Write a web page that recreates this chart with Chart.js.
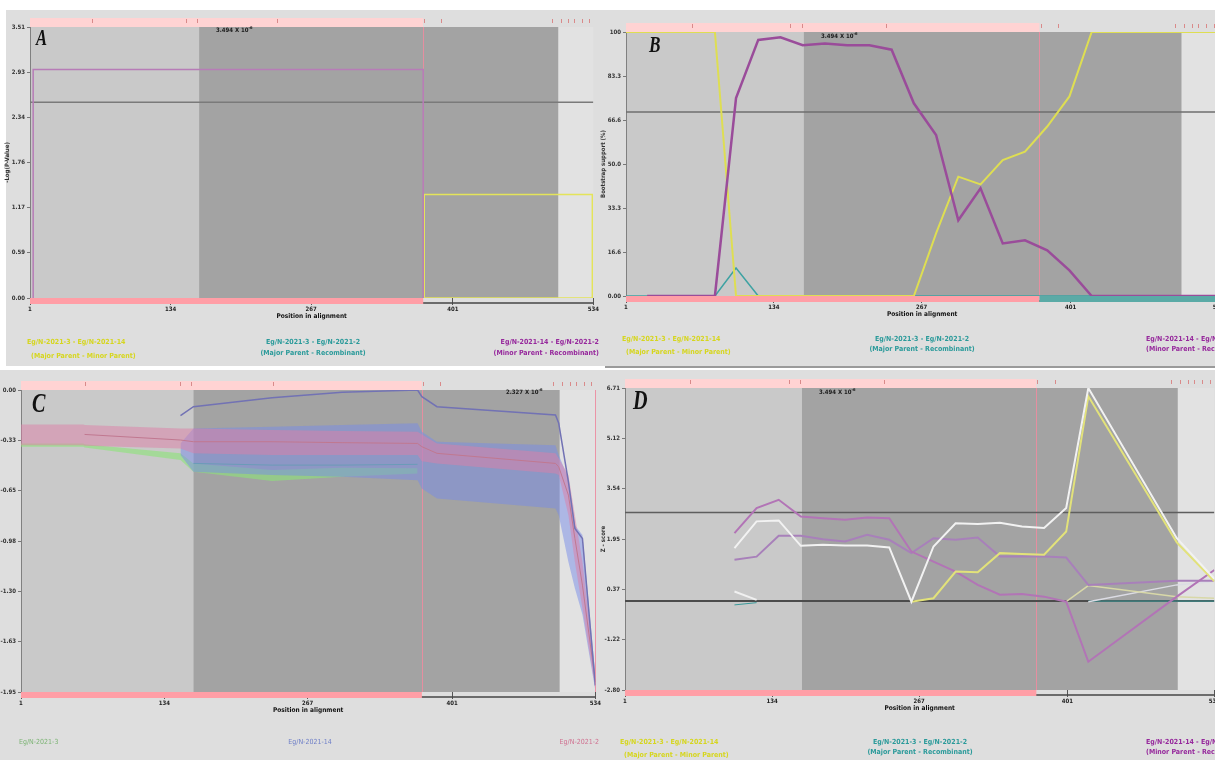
<!DOCTYPE html>
<html>
<head>
<meta charset="utf-8">
<script src="https://cdn.jsdelivr.net/npm/chart.js@4.4.1/dist/chart.umd.min.js"></script>
<style>
  body { margin: 0; background: #fff; }
  #page { position: relative; width: 1215px; height: 760px; overflow: hidden; background: #fff;
          font-family: "Liberation Sans Narrow", "DejaVu Sans Condensed", sans-serif; }
  .bg { position: absolute; background: #dedede; }
  canvas { position: absolute; }
  .t { position: absolute; font-weight: bold; font-size: 7px; line-height: 8px; white-space: nowrap; }
  .c { transform: translateX(-50%); text-align: center; }
  .r { text-align: right; }
  .letter { position: absolute; font-family: "Liberation Serif", "DejaVu Serif", serif; font-style: italic;
            font-weight: bold; color: #111; transform: scaleX(0.72); transform-origin: left top; }
  .pv { position: absolute; font-size: 6px; font-weight: bold; color: #1a1a1a; white-space: nowrap; }
  .pv sup { font-size: 4px; }
</style>
</head>
<body>
<div id="page">
  <div class="bg" style="left:6px;top:10px;width:599px;height:356px;"></div>
  <div class="bg" style="left:605px;top:10px;width:610px;height:356px;border-bottom:2px solid #9a9a9a;"></div>
  <div class="bg" style="left:0px;top:370px;width:605px;height:390px;"></div>
  <div class="bg" style="left:605px;top:370px;width:610px;height:390px;"></div>

  <canvas id="chartA"></canvas>
  <canvas id="chartB"></canvas>
  <canvas id="chartC"></canvas>
  <canvas id="chartD"></canvas>

  <div class="letter" style="left:36px;top:25px;font-size:23px;">A</div>
  <div class="letter" style="left:649px;top:31px;font-size:24px;">B</div>
  <div class="letter" style="left:32px;top:387px;font-size:28px;">C</div>
  <div class="letter" style="left:633px;top:384px;font-size:28px;">D</div>

  <div class="pv" style="left:216px;top:25px;">3.494 X 10<sup>-6</sup></div>
  <div class="pv" style="left:821px;top:31px;">3.494 X 10<sup>-6</sup></div>
  <div class="pv" style="left:506px;top:387px;">2.327 X 10<sup>-6</sup></div>
  <div class="pv" style="left:819px;top:387px;">3.494 X 10<sup>-6</sup></div>

  <!-- legends A -->
  <div class="t" style="left:27px;top:338px;color:#d6d61e;">Eg/N-2021-3 - Eg/N-2021-14</div>
  <div class="t" style="left:31px;top:352px;color:#d6d61e;">(Major Parent - Minor Parent)</div>
  <div class="t c" style="left:313px;top:338px;color:#2a9a9a;">Eg/N-2021-3 - Eg/N-2021-2<br><span style="line-height:14px">(Major Parent - Recombinant)</span></div>
  <div class="t r" style="right:616px;top:338px;color:#96289c;">Eg/N-2021-14 - Eg/N-2021-2<br><span style="line-height:14px">(Minor Parent - Recombinant)</span></div>
  <!-- legends B -->
  <div class="t" style="left:622px;top:335px;color:#d6d61e;">Eg/N-2021-3 - Eg/N-2021-14</div>
  <div class="t" style="left:626px;top:348px;color:#d6d61e;">(Major Parent - Minor Parent)</div>
  <div class="t c" style="left:922px;top:335px;color:#2a9a9a;">Eg/N-2021-3 - Eg/N-2021-2<br><span style="line-height:13px">(Major Parent - Recombinant)</span></div>
  <div class="t" style="left:1146px;top:335px;color:#96289c;">Eg/N-2021-14 - Eg/N-2021-2<br><span style="line-height:13px">(Minor Parent - Recombinant)</span></div>
  <!-- legends C -->
  <div class="t" style="left:19px;top:738px;color:#7cb474;font-weight:normal;">Eg/N-2021-3</div>
  <div class="t c" style="left:310px;top:738px;color:#7080c8;font-weight:normal;">Eg/N-2021-14</div>
  <div class="t r" style="right:616px;top:738px;color:#d07090;font-weight:normal;">Eg/N-2021-2</div>
  <!-- legends D -->
  <div class="t" style="left:620px;top:738px;color:#d6d61e;">Eg/N-2021-3 - Eg/N-2021-14</div>
  <div class="t" style="left:624px;top:751px;color:#d6d61e;">(Major Parent - Minor Parent)</div>
  <div class="t c" style="left:920px;top:738px;color:#2a9a9a;">Eg/N-2021-3 - Eg/N-2021-2<br><span style="line-height:13px">(Major Parent - Recombinant)</span></div>
  <div class="t" style="left:1146px;top:738px;color:#96289c;">Eg/N-2021-14 - Eg/N-2021-2<br><span style="line-height:13px">(Minor Parent - Recombinant)</span></div>
</div>

<script>
const FONT = '"Liberation Sans Narrow", "DejaVu Sans Condensed", "DejaVu Sans", sans-serif';

// shared alignment layout
const xTicks = [1, 134, 267, 401, 534];
const seqEnd = 534;
const regionStart = 161;
const regionEnd = 501;
const breakPoint = 373;
const siteMarks = [60, 149, 159, 235, 374, 390, 495, 503, 510, 516, 523, 530];

// Panel A: -Log(P-Value)
const aTicks = [0, 0.585, 1.17, 1.755, 2.34, 2.925, 3.51];
const aTickLabels = ['0.00', '0.59', '1.17', '1.76', '2.34', '2.93', '3.51'];
const aThreshold = 2.535;
const aPinkPos = [4, 4, 373, 373];
const aPinkVal = [0, 2.96, 2.96, 0];
const aYellowPos = [374, 374, 533, 533, 374];
const aYellowVal = [0, 1.34, 1.34, 0, 0];

// Panel B: bootstrap support (%)
const bTicks = [0, 16.66, 33.33, 50, 66.66, 83.33, 100];
const bTickLabels = ['0.00', '16.6', '33.3', '50.0', '66.6', '83.3', '100'];
const bThreshold = 69.7;
const bPos = [1, 20, 40, 60, 81, 100, 120, 140, 160, 180, 200, 220, 240, 260, 280, 300, 320, 340, 360, 380, 400, 420, 534];
const bYellow = [100, 100, 100, 100, 100, 0, 0, 0, 0, 0, 0, 0, 0, 0, 23.7, 45.2, 42.3, 51.5, 54.7, 64.2, 75.6, 100, 100];
const bPurple = [null, 0, 0, 0, 0, 75, 97, 98, 95, 95.6, 95, 95, 93.3, 73, 61, 28.7, 40.8, 19.9, 21.1, 17.3, 9.7, 0, 0];
const bTeal = [0, 0, 0, 0, 0, 10.6, 0, 0, 0, 0, 0, 0, 0, 0, 0, 0, 0, 0, 0, 0, 0, 0, 0];

// Panel C: per-sequence bands
const cTicks = [-1.95, -1.625, -1.3, -0.975, -0.65, -0.325, 0];
const cTickLabels = ['-1.95', '-1.63', '-1.30', '-0.98', '-0.65', '-0.33', '0.00'];
const cPinkPos = [1, 59, 60, 149, 161, 234, 299, 369, 373, 387, 497, 500, 509, 515, 522, 534];
const cPinkHigh = [-0.222, -0.222, -0.226, -0.248, -0.248, -0.259, -0.265, -0.269, -0.287, -0.345, -0.409, -0.442, -0.549, -0.808, -1.11, -1.84];
const cPinkLow = [-0.356, -0.356, -0.36, -0.377, -0.409, -0.42, -0.42, -0.42, -0.46, -0.474, -0.539, -0.549, -0.808, -1.11, -1.41, -1.93];
const cPinkMid = [null, null, -0.287, -0.323, -0.334, -0.334, -0.34, -0.345, -0.366, -0.409, -0.474, -0.496, -0.679, -0.959, -1.26, -1.885];
const cBluePos = [149, 161, 234, 299, 369, 373, 387, 497, 500, 509, 515, 522, 534];
const cBlueHigh = [-0.345, -0.248, -0.237, -0.226, -0.215, -0.269, -0.334, -0.356, -0.42, -0.571, -0.873, -0.937, -1.84];
const cBlueLow = [-0.42, -0.528, -0.549, -0.56, -0.582, -0.636, -0.70, -0.765, -0.808, -1.11, -1.28, -1.45, -1.94];
const cBlueMid = [null, -0.474, -0.485, -0.485, -0.48, null, null, null, null, null, null, null, null];
const cBlueTop = [-0.166, -0.108, -0.05, -0.015, 0, -0.043, -0.108, -0.162, -0.215, -0.593, -0.894, -0.959, -1.907];
const cGreenPos = [1, 59, 60, 149, 161, 234, 299, 369];
const cGreenHigh = [-0.345, -0.345, -0.351, -0.409, -0.474, -0.517, -0.502, -0.506];
const cGreenLow = [-0.366, -0.366, -0.372, -0.452, -0.528, -0.588, -0.56, -0.539];

// Panel D: Z-score
const dTicks = [-2.80, -1.215, 0.37, 1.955, 3.54, 5.125, 6.71];
const dTickLabels = ['-2.80', '-1.22', '0.37', '1.95', '3.54', '5.12', '6.71'];
const dThresholds = [2.79, 0];
const dPos = [100, 120, 140, 160, 180, 200, 220, 240, 260, 280, 300, 320, 340, 360, 380, 400, 420, 500, 534];
const dPurple1 = [2.14, 2.93, 3.19, 2.66, 2.61, 2.56, 2.63, 2.61, 1.56, 1.24, 0.93, 0.51, 0.20, 0.22, 0.14, -0.02, -1.91, 0.14, 0.98];
const dPurple2 = [1.30, 1.40, 2.06, 2.06, 1.95, 1.88, 2.09, 1.93, 1.51, 1.98, 1.93, 2.00, 1.40, 1.40, 1.40, 1.37, 0.51, 0.64, 0.64];
const dWhite = [1.67, 2.51, 2.54, 1.74, 1.77, 1.75, 1.75, 1.69, -0.02, 1.72, 2.45, 2.43, 2.47, 2.35, 2.30, 2.93, 6.71, 1.98, 0.70];
const dYellow = [null, null, null, null, null, null, null, null, -0.02, 0.09, 0.93, 0.91, 1.51, 1.48, 1.46, 2.19, 6.45, 1.85, 0.62];
const dYellow2 = [null, null, null, null, null, null, null, null, null, null, null, null, null, null, null, -0.02, 0.49, 0.14, 0.09];
const dWhite2 = [null, null, null, null, null, null, null, null, null, null, null, null, null, null, null, null, -0.02, 0.51, 0.62];
const dWhiteLeft = [0.30, 0.04, null, null, null, null, null, null, null, null, null, null, null, null, null, null, null, null, null];
const dTeal = [-0.12, -0.05, null, null, null, null, null, null, null, null, null, null, null, null, null, null, 0, 0, 0];

const pts = (xs, ys) => xs.map((x, i) => ({ x, y: ys[i] }));
const line = (xs, ys, color, w, extra = {}) => Object.assign({
    data: pts(xs, ys), borderColor: color, borderWidth: w, pointRadius: 0, fill: false, spanGaps: false
}, extra);
const flat = (v, color, w) => line([1, seqEnd], [v, v], color, w);

// background regions, top/bottom bars, breakpoint marker
const decor = {
    id: 'decor',
    beforeDraw(chart) {
        const { ctx, chartArea: a, scales: { x } } = chart;
        const px = v => x.getPixelForValue(v);
        const bands = [[1, regionStart, '#c9c9c9'], [regionStart, regionEnd, '#a3a3a3'], [regionEnd, seqEnd, '#e2e2e2']];
        ctx.save();
        bands.forEach(([f, t, c]) => {
            ctx.fillStyle = c;
            ctx.fillRect(px(f), a.top, px(t) - px(f), a.bottom - a.top);
        });
        ctx.restore();
    },
    beforeDatasetsDraw(chart, args, o) {
        const { ctx, chartArea: a, scales: { x } } = chart;
        ctx.save();
        ctx.strokeStyle = 'rgba(236,140,160,0.9)';
        ctx.lineWidth = 1;
        (o.verticals || [breakPoint]).forEach(v => {
            const p = Math.round(x.getPixelForValue(v)) + 0.5;
            ctx.beginPath(); ctx.moveTo(p, a.top); ctx.lineTo(p, a.bottom); ctx.stroke();
        });
        ctx.restore();
    },
    afterDatasetsDraw(chart, args, o) {
        const { ctx, chartArea: a, scales: { x } } = chart;
        const px = v => x.getPixelForValue(v);
        ctx.save();
        // top bar
        ctx.fillStyle = '#ffd3d3';
        ctx.fillRect(px(1), a.top - 9, px(breakPoint) - px(1), 9);
        ctx.strokeStyle = '#d98a8a';
        ctx.lineWidth = 1;
        siteMarks.forEach(v => {
            const p = Math.round(px(v)) + 0.5;
            ctx.beginPath(); ctx.moveTo(p, a.top - 8); ctx.lineTo(p, a.top - 4); ctx.stroke();
        });
        // axis line
        ctx.strokeStyle = '#444';
        ctx.lineWidth = 1.5;
        ctx.beginPath(); ctx.moveTo(a.left, a.bottom + 5); ctx.lineTo(a.right, a.bottom + 5); ctx.stroke();
        // bottom bars
        (o.bottom || []).forEach(([f, t, c]) => {
            ctx.fillStyle = c;
            ctx.fillRect(px(f), a.bottom, px(t) - px(f), 6);
        });
        ctx.restore();
    }
};

function panel(id, geo, y, datasets, decorOpts) {
    const cv = document.getElementById(id);
    cv.width = geo.w; cv.height = geo.h;
    cv.style.left = geo.l + 'px'; cv.style.top = geo.t + 'px';
    const tickFont = { family: FONT, size: 6, weight: 'bold' };
    return new Chart(cv, {
        type: 'line',
        data: { datasets },
        plugins: [decor],
        options: {
            responsive: false,
            animation: false,
            devicePixelRatio: 1,
            layout: { padding: geo.pad },
            plugins: { legend: { display: false }, tooltip: { enabled: false }, decor: decorOpts },
            scales: {
                x: {
                    type: 'linear', min: 1, max: seqEnd,
                    afterBuildTicks: s => { s.ticks = xTicks.map(v => ({ value: v })); },
                    afterFit: s => { s.height = geo.xh; },
                    grid: { drawOnChartArea: false, tickLength: 7, color: '#555' },
                    border: { display: false },
                    ticks: { font: tickFont, color: '#222', padding: 1, maxRotation: 0, autoSkip: false, callback: v => String(v) },
                    title: { display: true, text: 'Position in alignment', font: { family: FONT, size: 6.5, weight: 'bold' }, color: '#111', padding: 0 }
                },
                y: {
                    min: y.ticks[0], max: y.ticks[y.ticks.length - 1],
                    afterBuildTicks: s => { s.ticks = y.ticks.map(v => ({ value: v })); },
                    afterFit: s => { s.width = geo.yw; },
                    grid: { drawOnChartArea: false, tickLength: 3, color: '#777' },
                    border: { color: '#808080' },
                    ticks: { font: tickFont, color: '#333', padding: 2, autoSkip: false, callback: (v, i) => y.labels[i] },
                    title: { display: !!y.title, text: y.title || '', font: { family: FONT, size: 6, weight: 'bold' }, color: '#333', padding: 0 }
                }
            }
        }
    });
}

const PINK_BAR = '#ff9ea6';

panel('chartA',
    { l: 4, t: 10, w: 596, h: 356, yw: 26, xh: 22, pad: { top: 17, right: 5, bottom: 46, left: 0 } },
    { ticks: aTicks, labels: aTickLabels, title: '-Log(P-Value)' },
    [
        line(aPinkPos, aPinkVal, '#b77cb7', 1.5),
        line(aYellowPos, aYellowVal, '#e4e45a', 1.5),
        flat(aThreshold, '#7a7a7a', 1.5)
    ],
    { bottom: [[1, breakPoint, PINK_BAR]] });

panel('chartB',
    { l: 600, t: 10, w: 625, h: 356, yw: 26, xh: 22, pad: { top: 22, right: 6, bottom: 48, left: 0 } },
    { ticks: bTicks, labels: bTickLabels, title: 'Bootstrap support (%)' },
    [
        line(bPos, bPurple, '#9a4c9a', 2.5),
        line(bPos, bYellow, '#dede52', 2),
        line(bPos, bTeal, '#3ea2a2', 1.5),
        flat(bThreshold, '#6e6e6e', 1.5)
    ],
    { bottom: [[1, breakPoint, PINK_BAR], [breakPoint, seqEnd, '#5aaaa6']] });

const PINK_FILL = 'rgba(222,128,168,0.5)';
const BLUE_FILL = 'rgba(120,140,232,0.5)';
const GREEN_FILL = 'rgba(140,228,120,0.6)';
const NONE = 'rgba(0,0,0,0)';

panel('chartC',
    { l: 0, t: 370, w: 602, h: 390, yw: 21, xh: 22, pad: { top: 20, right: 5, bottom: 46, left: 0 } },
    { ticks: cTicks, labels: cTickLabels },
    [
        line(cBluePos, cBlueTop, '#7272b4', 1.5),
        line(cPinkPos, cPinkMid, '#c07890', 1),
        line(cPinkPos, cPinkLow, NONE, 0),
        line(cPinkPos, cPinkHigh, NONE, 0, { fill: '-1', backgroundColor: PINK_FILL }),
        line(cBluePos, cBlueMid, '#6a9cb8', 1),
        line(cBluePos, cBlueLow, NONE, 0),
        line(cBluePos, cBlueHigh, NONE, 0, { fill: '-1', backgroundColor: BLUE_FILL }),
        line(cGreenPos, cGreenLow, NONE, 0),
        line(cGreenPos, cGreenHigh, NONE, 0, { fill: '-1', backgroundColor: GREEN_FILL })
    ],
    { bottom: [[1, breakPoint, PINK_BAR]], verticals: [breakPoint, seqEnd] });

panel('chartD',
    { l: 600, t: 370, w: 621, h: 390, yw: 25, xh: 22, pad: { top: 18, right: 5, bottom: 48, left: 0 } },
    { ticks: dTicks, labels: dTickLabels, title: 'Z - score' },
    [
        line(dPos, dWhite, '#f2f2f2', 2),
        line(dPos, dYellow, '#e2e27a', 2),
        line(dPos, dPurple1, '#b274b6', 2),
        line(dPos, dPurple2, '#a880ba', 2),
        line(dPos, dYellow2, '#d8d8a8', 1.5),
        line(dPos, dWhite2, '#dcdce4', 1.5),
        line(dPos, dWhiteLeft, '#f0f0f0', 2),
        line(dPos, dTeal, '#3a9a9a', 1),
        flat(dThresholds[0], '#5e5e5e', 1.5),
        flat(dThresholds[1], '#4c4c4c', 2)
    ],
    { bottom: [[1, breakPoint, PINK_BAR]] });
</script>
</body>
</html>
